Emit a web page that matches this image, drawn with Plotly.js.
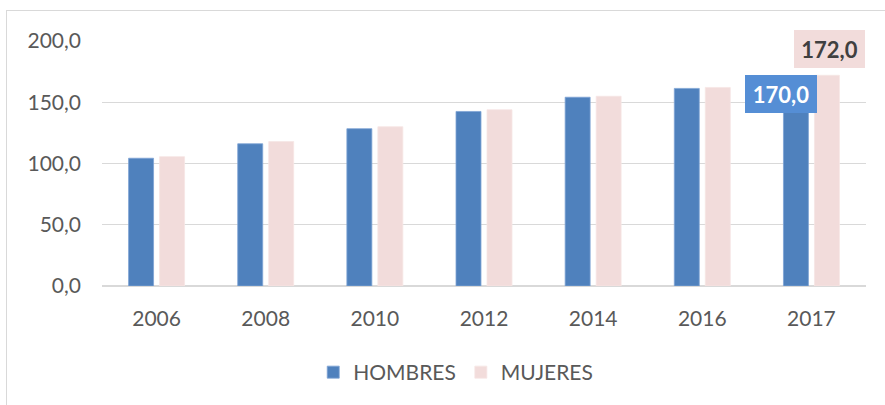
<!DOCTYPE html>
<html>
<head>
<meta charset="utf-8">
<script src="https://cdn.plot.ly/plotly-3.0.1.min.js"></script>
<style>
html,body{margin:0;padding:0;background:#fff;overflow:hidden;width:885px;height:405px;}
#frame{position:absolute;left:6px;top:10px;width:1000px;height:1000px;border:1.5px solid #D9D9D9;box-sizing:border-box;pointer-events:none;}
#chart{position:absolute;left:0;top:0;width:885px;height:405px;}
</style>
</head>
<body>
<div id="chart"></div>
<div id="frame"></div>
<script>
const years = ['2006','2008','2010','2012','2014','2016','2017'];
const hombres = [104.3, 116.1, 128.4, 142.5, 154.1, 161.3, 170.0];
const mujeres = [105.6, 117.9, 130.0, 143.9, 154.9, 162.1, 172.0];
const seriesNames = ['HOMBRES', 'MUJERES'];
const labelledIndex = 6;

const fontFam = 'Lato, "Open Sans", sans-serif';
const txtCol = '#595959';
const fmt = v => v.toFixed(1).replace('.', ',');

const traces = [
  {type:'bar', name:seriesNames[0], x:years, y:hombres,
   marker:{color:'#4F81BD', line:{color:'#7DA3D4', width:0.8}}, hoverinfo:'skip'},
  {type:'bar', name:seriesNames[1], x:years, y:mujeres,
   marker:{color:'#F2DCDB', line:{color:'#F6E6E5', width:0.8}}, hoverinfo:'skip'}
];

const annotations = [
  {x:labelledIndex, y:hombres[labelledIndex] - 13, xref:'x', yref:'y',
   text:'<b>'+fmt(hombres[labelledIndex])+'</b>', showarrow:false, xshift:-30,
   bgcolor:'#558ED5', bordercolor:'#558ED5', borderwidth:1, borderpad:0,
   width:70, height:36, font:{family:fontFam, size:22, color:'#FFFFFF'}},
  {x:labelledIndex, y:mujeres[labelledIndex] + 21.3, xref:'x', yref:'y',
   text:'<b>'+fmt(mujeres[labelledIndex])+'</b>', showarrow:false, xshift:18,
   bgcolor:'#F2DCDB', bordercolor:'#F2DCDB', borderwidth:1, borderpad:0,
   width:69, height:36, font:{family:fontFam, size:22, color:'#404040'}}
];

const layout = {
  width:885, height:405,
  margin:{l:102, r:19, t:41, b:115},
  paper_bgcolor:'rgba(0,0,0,0)', plot_bgcolor:'rgba(0,0,0,0)',
  separators:',.',
  font:{family:fontFam, size:21, color:txtCol},
  barmode:'group', bargap:0.432, bargroupgap:0.194,
  showlegend:true,
  legend:{orientation:'h', x:0.463, xanchor:'center', y:-0.353, yanchor:'middle',
          font:{family:fontFam, size:21, color:txtCol}, itemwidth:30, traceorder:'normal'},
  xaxis:{type:'category', range:[-0.5, 6.5], showgrid:false, zeroline:false, showline:false, ticks:'',
         ticklabelstandoff:18, tickfont:{family:fontFam, size:21, color:txtCol}, fixedrange:true},
  yaxis:{range:[0,200], tickvals:[0,50,100,150,200], tickformat:'.1f', showgrid:true,
         gridcolor:'#D9D9D9', gridwidth:1.3, zeroline:true, zerolinecolor:'#D9D9D9', zerolinewidth:1.3,
         showline:false, ticks:'', ticklabelstandoff:20,
         tickfont:{family:fontFam, size:21, color:txtCol}, fixedrange:true},
  annotations:annotations
};

Plotly.newPlot('chart', traces, layout, {staticPlot:true, displayModeBar:false});
</script>
</body>
</html>
